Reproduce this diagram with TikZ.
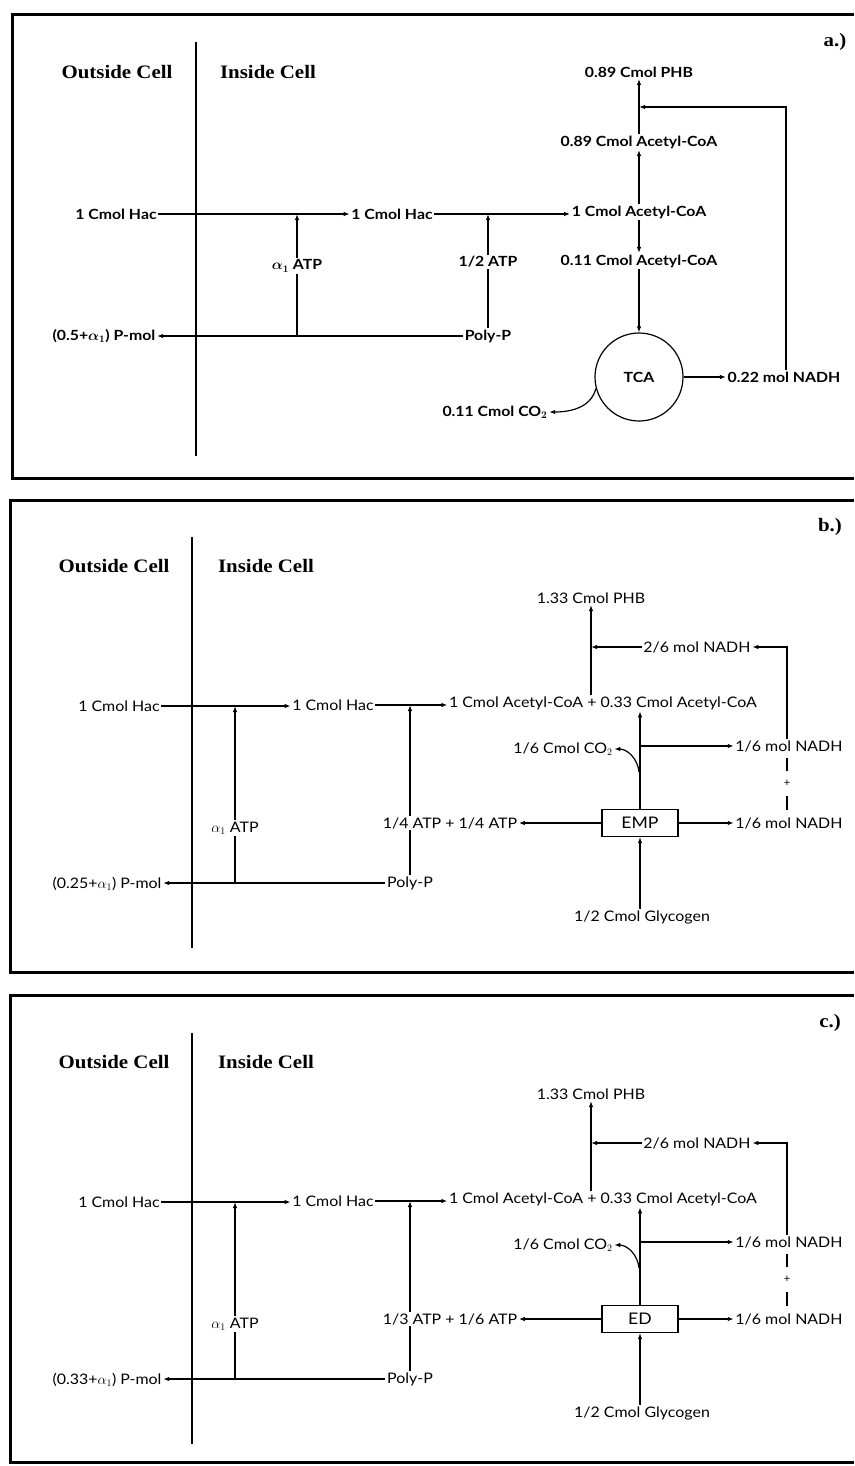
\documentclass[tikz,border=0pt]{standalone}
\usepackage{fontspec}
\setmainfont{Lato}
\newfontfamily\lblfam[FakeStretch=1.1]{Lato}
\newfontfamily\lblafam[FakeStretch=1.13]{Lato}
\newfontfamily\hdrfam[FakeStretch=1.1]{Liberation Serif}
\usetikzlibrary{arrows.meta}

\newcommand\bcpanel[5]{% #1 y shift, #2 letter, #3 atp text, #4 P-mol text, #5 box text
\begin{scope}[shift={(0,#1)}, name prefix=#2-]
  \node[hdr] (lab) at (830,527) {#2.)};
  \coordinate (dtop) at (192,537);
  \coordinate (dbot) at (192,948);
  \draw[divider] (dtop) -- (dbot);
  \node[hdr] (outside) at (114,566) {Outside Cell};
  \node[hdr] (inside) at (266,566) {Inside Cell};
  \node[lbl] (phb) at (591,598) {1.33 Cmol PHB};
  \node[lbl] (nadh26) at (697,647) {2/6 mol NADH};
  \node[lbl] (hac1) at (119,706) {1 Cmol Hac};
  \node[lbl] (hac2) at (333,705) {1 Cmol Hac};
  \node[lbl] (acs) at (603,703) {1 Cmol Acetyl-CoA + 0.33 Cmol Acetyl-CoA};
  \node[lbl] (co2) at (563,749) {1/6 Cmol CO$_2$};
  \node[lbl] (nadh1) at (789,746) {1/6 mol NADH};
  \node[boxn] (box) at (640,823) {#5};
  \node[lbl] (nadh2) at (789,823) {1/6 mol NADH};
  \node[lbl] (pmol) at (107,884) {#4};
  \node[lbl] (polyp) at (410,883) {Poly-P};
  \node[lbl] (glyc) at (642,917) {1/2 Cmol Glycogen};
  % connectors
  \draw[arr] (hac1.east) -- (hac1.east -| hac2.west);
  \draw[arr] (hac2.east) -- (hac2.east -| acs.west);
  \coordinate (atp1pos) at (235,828);
  \draw[arr] (atp1pos |- pmol.east) -- (atp1pos |- hac1.east);
  \node[lbl, fill=white] (atp1) at (atp1pos) {$\alpha_1$ ATP};
  \draw[arr] (polyp.north) -- (polyp.north |- hac2.east);
  \node[lbl, fill=white] (atp2) at (450,823) {#3};
  \draw[arr] (polyp.west) -- (polyp.west -| pmol.east);
  \draw[arr] (box.west) -- (box.west -| atp2.east);
  \draw[arr] (box.east) -- (box.east -| nadh2.west);
  \draw[arr] (box.south |- glyc.north) -- (box.south);
  \draw[arr] (box.north) -- (box.north |- acs.south);
  \draw[arr] (box.north |- nadh1.west) -- (nadh1.west);
  \coordinate (cstart) at (639,772);
  \draw[arr] (cstart) to[out=95,in=0] (co2.east);
  \draw[arr] (phb.south |- acs.north) -- (phb.south);
  \draw[arr] (nadh26.west) -- (nadh26.west -| phb.south);
  \coordinate (lp) at (787,647);
  \draw[arr] (lp |- nadh1.north) -- (lp) -- (nadh26.east);
  \coordinate (d1) at (787,758);
  \coordinate (d2) at (787,771);
  \coordinate (d3) at (787,796);
  \coordinate (d4) at (787,810);
  \draw[conn] (d1) -- (d2) (d3) -- (d4);
  \node[font=\fontsize{11}{11}\selectfont, inner sep=0pt] (plus) at (787,783) {+};
\end{scope}}

\begin{document}
\begin{tikzpicture}[x=1pt,y=-1pt,
  lbl/.style={font=\lblfam\fontsize{14.5}{16}\selectfont, inner sep=1.5pt},
  lbla/.style={font=\lblafam\fontsize{14}{16}\selectfont\bfseries\boldmath, inner sep=1.5pt},
  hdr/.style={font=\hdrfam\bfseries\fontsize{19}{22}\selectfont, inner sep=1pt},
  conn/.style={line width=1.2pt},
  arr/.style={conn, -{Latex[length=6pt,width=4.5pt]}},
  divider/.style={line width=2.4pt},
  frm/.style={line width=3pt},
  boxn/.style={draw, line width=1.2pt, minimum width=76pt, minimum height=27pt, font=\lblfam\fontsize{16}{18}\selectfont},
  tcan/.style={draw, circle, line width=1.2pt, minimum size=88pt, font=\lblafam\fontsize{14}{16}\selectfont\bfseries},
]
\useasboundingbox (0,0) rectangle (854,1466);
\fill[white] (0,0) rectangle (854,1466);

% frames
\coordinate (fa1) at (854,15); \coordinate (fa2) at (12,15);
\coordinate (fa3) at (12,478); \coordinate (fa4) at (854,478);
\draw[frm] (fa1) -- (fa2) -- (fa3) -- (fa4);
\coordinate (fb1) at (854,500); \coordinate (fb2) at (10,500);
\coordinate (fb3) at (10,972); \coordinate (fb4) at (854,972);
\draw[frm] (fb1) -- (fb2) -- (fb3) -- (fb4);
\coordinate (fc1) at (854,995); \coordinate (fc2) at (10,995);
\coordinate (fc3) at (10,1462); \coordinate (fc4) at (854,1462);
\draw[frm] (fc1) -- (fc2) -- (fc3) -- (fc4);

% ---------- panel a ----------
\node[hdr] (a-lab) at (835,42) {a.)};
\coordinate (a-dtop) at (196,42);
\coordinate (a-dbot) at (196,456);
\draw[divider] (a-dtop) -- (a-dbot);
\node[hdr] (a-outside) at (117,72) {Outside Cell};
\node[hdr] (a-inside) at (268,72) {Inside Cell};
\node[lbla] (a-phb) at (639,72) {0.89 Cmol PHB};
\node[lbla] (a-ac89) at (639,142) {0.89 Cmol Acetyl-CoA};
\node[lbla] (a-hac1) at (116,214) {1 Cmol Hac};
\node[lbla] (a-hac2) at (392,214) {1 Cmol Hac};
\node[lbla] (a-ac1) at (639,212) {1 Cmol Acetyl-CoA};
\node[lbla] (a-ac11) at (639,261) {0.11 Cmol Acetyl-CoA};
\node[lbla] (a-pmol) at (104,336) {(0.5+$\alpha_1$) P-mol};
\node[lbla] (a-polyp) at (488,336) {Poly-P};
\node[tcan] (a-tca) at (639,377) {TCA};
\node[lbla] (a-nadh) at (784,377) {0.22 mol NADH};
\node[lbla] (a-co2) at (495,412) {0.11 Cmol CO$_2$};

\draw[arr] (a-hac1.east) -- (a-hac1.east -| a-hac2.west);
\draw[arr] (a-hac2.east) -- (a-hac2.east -| a-ac1.west);
\coordinate (a-atp1pos) at (297,266);
\draw[arr] (a-atp1pos |- a-pmol.east) -- (a-atp1pos |- a-hac1.east);
\node[lbla, fill=white] (a-atp1) at (a-atp1pos) {$\alpha_1$ ATP};
\draw[arr] (a-polyp.north) -- (a-polyp.north |- a-hac2.east);
\node[lbla, fill=white] (a-atp2) at (488,262) {1/2 ATP};
\draw[arr] (a-polyp.west) -- (a-polyp.west -| a-pmol.east);
\draw[arr] (a-ac89.north) -- (a-phb.south);
\draw[arr] (a-ac1.north) -- (a-ac89.south);
\draw[arr] (a-ac1.south) -- (a-ac11.north);
\draw[arr] (a-ac11.south) -- (a-tca.north);
\draw[arr] (a-tca.east) -- (a-nadh.west);
\coordinate (a-fb) at (786,107);
\draw[arr] (a-fb |- a-nadh.north) -- (a-fb) -- (a-fb -| a-phb.south);
\draw[arr] (a-tca.195) to[out=255,in=0] (a-co2.east);

% ---------- panels b and c ----------
\bcpanel{0}{b}{1/4 ATP + 1/4 ATP}{(0.25+$\alpha_1$) P-mol}{EMP}
\bcpanel{496}{c}{1/3 ATP + 1/6 ATP}{(0.33+$\alpha_1$) P-mol}{ED}
\end{tikzpicture}
\end{document}
